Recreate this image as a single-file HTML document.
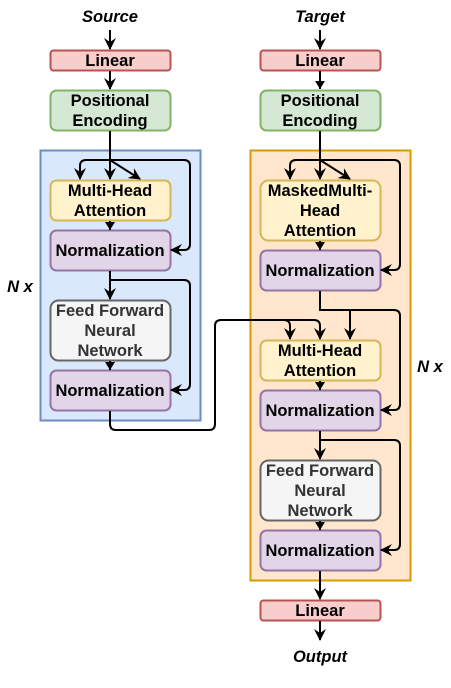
<!DOCTYPE html>
<html><head><meta charset="utf-8"><style>
html,body{margin:0;padding:0;background:#fff;}
svg{display:block;}
text{font-family:"Liberation Sans",sans-serif;font-weight:bold;font-size:16.5px;text-anchor:middle;fill:#000;}
.it{font-style:italic;}
.ff{fill:#333;}
.l{fill:none;stroke:#000;stroke-width:2;}
</style></head><body>
<svg width="451" height="688" viewBox="0 0 451 688" xmlns="http://www.w3.org/2000/svg">
<defs>
<marker id="a" markerWidth="14" markerHeight="14" refX="11" refY="6" orient="auto" markerUnits="userSpaceOnUse"><path d="M0,0 L12,6 L0,12 L4,6 Z" fill="#000"/></marker>
<marker id="s" markerWidth="10" markerHeight="10" refX="8" refY="5" orient="auto" markerUnits="userSpaceOnUse"><path d="M0,0 L8,5 L0,10 Z" fill="#000"/></marker>
</defs>
<rect x="40.5" y="150.5" width="160" height="270" fill="#dae8fc" stroke="#6c8ebf" stroke-width="2"/>
<rect x="250.5" y="150.5" width="160" height="430" fill="#ffe6cc" stroke="#d79b00" stroke-width="2"/>
<text class="it" x="110" y="22">Source</text>
<text class="it" x="320" y="22">Target</text>
<text class="it" x="320" y="662">Output</text>
<text class="it" x="20" y="292">N x</text>
<text class="it" x="430" y="372">N x</text>
<rect x="50.5" y="50.5" width="120" height="20" rx="3" fill="#f8cecc" stroke="#b85450" stroke-width="2"/>
<text x="110" y="66">Linear</text>
<rect x="50.5" y="90.5" width="120" height="40" rx="6" fill="#d5e8d4" stroke="#82b366" stroke-width="2"/>
<text x="110" y="106">Positional</text><text x="110" y="126">Encoding</text>
<rect x="50.5" y="180.5" width="120" height="40" rx="6" fill="#fff2cc" stroke="#d6b656" stroke-width="2"/>
<text x="110" y="196">Multi-Head</text><text x="110" y="216">Attention</text>
<rect x="50.5" y="230.5" width="120" height="40" rx="6" fill="#e1d5e7" stroke="#9673a6" stroke-width="2"/>
<text x="110" y="256">Normalization</text>
<rect x="50.5" y="300.5" width="120" height="60" rx="8" fill="#f5f5f5" stroke="#666" stroke-width="2"/>
<text class="ff" x="110" y="316">Feed Forward</text><text class="ff" x="110" y="336">Neural</text><text class="ff" x="110" y="356">Network</text>
<rect x="50.5" y="370.5" width="120" height="40" rx="6" fill="#e1d5e7" stroke="#9673a6" stroke-width="2"/>
<text x="110" y="396">Normalization</text>
<rect x="260.5" y="50.5" width="120" height="20" rx="3" fill="#f8cecc" stroke="#b85450" stroke-width="2"/>
<text x="320" y="66">Linear</text>
<rect x="260.5" y="90.5" width="120" height="40" rx="6" fill="#d5e8d4" stroke="#82b366" stroke-width="2"/>
<text x="320" y="106">Positional</text><text x="320" y="126">Encoding</text>
<rect x="260.5" y="180.5" width="120" height="60" rx="8" fill="#fff2cc" stroke="#d6b656" stroke-width="2"/>
<text x="320" y="196">MaskedMulti-</text><text x="320" y="216">Head</text><text x="320" y="236">Attention</text>
<rect x="260.5" y="250.5" width="120" height="40" rx="6" fill="#e1d5e7" stroke="#9673a6" stroke-width="2"/>
<text x="320" y="276">Normalization</text>
<rect x="260.5" y="340.5" width="120" height="40" rx="6" fill="#fff2cc" stroke="#d6b656" stroke-width="2"/>
<text x="320" y="356">Multi-Head</text><text x="320" y="376">Attention</text>
<rect x="260.5" y="390.5" width="120" height="40" rx="6" fill="#e1d5e7" stroke="#9673a6" stroke-width="2"/>
<text x="320" y="416">Normalization</text>
<rect x="260.5" y="460.5" width="120" height="60" rx="8" fill="#f5f5f5" stroke="#666" stroke-width="2"/>
<text class="ff" x="320" y="476">Feed Forward</text><text class="ff" x="320" y="496">Neural</text><text class="ff" x="320" y="516">Network</text>
<rect x="260.5" y="530.5" width="120" height="40" rx="6" fill="#e1d5e7" stroke="#9673a6" stroke-width="2"/>
<text x="320" y="556">Normalization</text>
<rect x="260.5" y="600.5" width="120" height="20" rx="3" fill="#f8cecc" stroke="#b85450" stroke-width="2"/>
<text x="320" y="616">Linear</text>
<path class="l" d="M110,30 V49" marker-end="url(#a)"/>
<path class="l" d="M110,71 V89" marker-end="url(#a)"/>
<path class="l" d="M110,131 V179" marker-end="url(#a)"/>
<path class="l" d="M110,160 H86 Q80,160 80,166 V179" marker-end="url(#a)"/>
<path class="l" d="M110,160 L140,179" marker-end="url(#a)"/>
<path class="l" d="M110,160 H184 Q190,160 190,166 V244 Q190,250 184,250 H171" marker-end="url(#a)"/>
<path class="l" d="M110,221 V230" marker-end="url(#s)"/>
<path class="l" d="M110,271 V299" marker-end="url(#a)"/>
<path class="l" d="M110,280 H184 Q190,280 190,286 V384 Q190,390 184,390 H171" marker-end="url(#a)"/>
<path class="l" d="M110,361 V370" marker-end="url(#s)"/>
<path class="l" d="M110,411 V424 Q110,430 116,430 H209 Q215,430 215,424 V326 Q215,320 221,320 H284 Q290,320 290,326 V339" marker-end="url(#a)"/>
<path class="l" d="M270,320 H314 Q320,320 320,326 V339" marker-end="url(#a)"/>
<path class="l" d="M320,30 V49" marker-end="url(#a)"/>
<path class="l" d="M320,71 V89" marker-end="url(#s)"/>
<path class="l" d="M320,131 V179" marker-end="url(#a)"/>
<path class="l" d="M320,160 H296 Q290,160 290,166 V179" marker-end="url(#a)"/>
<path class="l" d="M320,160 L350,179" marker-end="url(#a)"/>
<path class="l" d="M320,160 H394 Q400,160 400,166 V264 Q400,270 394,270 H381" marker-end="url(#a)"/>
<path class="l" d="M320,241 V250" marker-end="url(#s)"/>
<path class="l" d="M320,291 V310 H350 V339" marker-end="url(#a)"/>
<path class="l" d="M350,310 H394 Q400,310 400,316 V404 Q400,410 394,410 H381" marker-end="url(#a)"/>
<path class="l" d="M320,381 V390" marker-end="url(#s)"/>
<path class="l" d="M320,431 V459" marker-end="url(#a)"/>
<path class="l" d="M320,440 H394 Q400,440 400,446 V544 Q400,550 394,550 H381" marker-end="url(#a)"/>
<path class="l" d="M320,521 V530" marker-end="url(#s)"/>
<path class="l" d="M320,571 V599" marker-end="url(#a)"/>
<path class="l" d="M320,621 V640" marker-end="url(#a)"/>
</svg>
</body></html>
